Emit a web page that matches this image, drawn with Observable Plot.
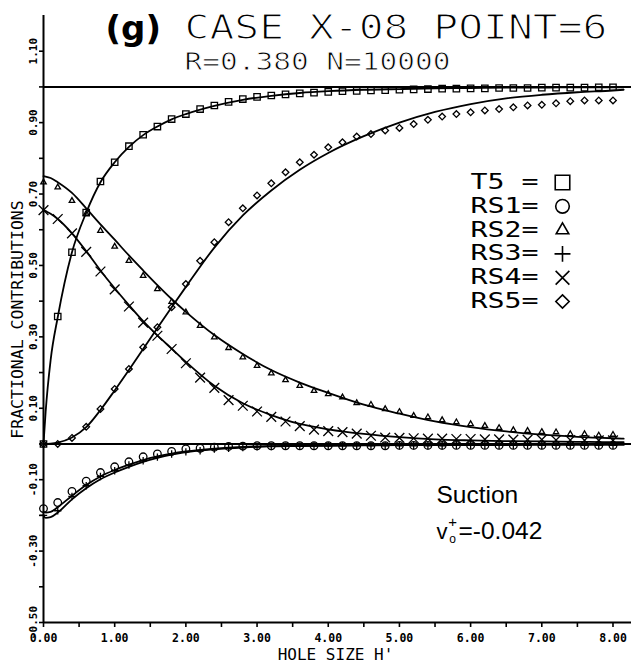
<!DOCTYPE html>
<html>
<head>
<meta charset="utf-8">
<script src="https://cdn.jsdelivr.net/npm/d3@7"></script>
<script src="https://cdn.jsdelivr.net/npm/@observablehq/plot@0.6"></script>
<style>
  html, body { margin: 0; padding: 0; background: #fff; }
  #chart { width: 631px; height: 666px; }
</style>
</head>
<body>
<div id="chart"></div>
<script>
// ---------------- data ----------------
// marker positions (hole size H+)
const markX = [0,0.2,0.4,0.6,0.8,1.0,1.2,1.4,1.6,1.8,2.0,2.2,2.4,2.6,2.8,3.0,3.2,3.4,3.6,3.8,4.0,4.2,4.4,4.6,4.8,5.0,5.2,5.4,5.6,5.8,6.0,6.2,6.4,6.6,6.8,7.0,7.2,7.4,7.6,7.8,8.0];

const t5Mark  = [0,0.357,0.537,0.648,0.735,0.789,0.834,0.866,0.889,0.910,0.924,0.938,0.948,0.958,0.966,0.972,0.976,0.979,0.982,0.984,0.986,0.988,0.989,0.990,0.991,0.992,0.993,0.994,0.995,0.995,0.996,0.996,0.997,0.997,0.997,0.998,0.998,0.998,0.998,0.999,0.999];
const rs1Mark = [-0.181,-0.164,-0.133,-0.104,-0.080,-0.064,-0.050,-0.036,-0.028,-0.021,-0.014,-0.012,-0.009,-0.007,-0.006,-0.005,-0.005,-0.005,-0.005,-0.005,-0.005,-0.005,-0.005,-0.005,-0.005,-0.004,-0.004,-0.004,-0.004,-0.004,-0.004,-0.004,-0.004,-0.004,-0.004,-0.004,-0.004,-0.004,-0.004,-0.004,-0.004];
const rs2Mark = [0.733,0.719,0.681,0.645,0.597,0.553,0.513,0.471,0.434,0.398,0.369,0.331,0.299,0.269,0.243,0.219,0.198,0.179,0.163,0.149,0.140,0.131,0.115,0.110,0.098,0.090,0.079,0.075,0.067,0.061,0.056,0.051,0.045,0.039,0.037,0.034,0.033,0.028,0.028,0.024,0.026];
const rs3Mark = [-0.200,-0.187,-0.147,-0.117,-0.091,-0.075,-0.059,-0.047,-0.037,-0.028,-0.022,-0.019,-0.014,-0.012,-0.010,-0.008,-0.007,-0.006,-0.006,-0.005,-0.005,-0.005,-0.005,-0.005,-0.005,-0.005,-0.005,-0.005,-0.005,-0.004,-0.004,-0.004,-0.004,-0.004,-0.004,-0.004,-0.004,-0.004,-0.004,-0.004,-0.004];
const rs4Mark = [0.655,0.630,0.590,0.538,0.483,0.433,0.385,0.340,0.303,0.266,0.226,0.186,0.157,0.123,0.107,0.091,0.076,0.063,0.050,0.040,0.036,0.033,0.029,0.023,0.018,0.017,0.016,0.015,0.015,0.014,0.014,0.013,0.013,0.012,0.012,0.012,0.011,0.011,0.010,0.010,0.010];
const rs5Mark = [0,0.000,0.017,0.048,0.098,0.154,0.210,0.271,0.327,0.383,0.448,0.513,0.565,0.621,0.660,0.696,0.730,0.761,0.789,0.810,0.831,0.845,0.861,0.868,0.878,0.885,0.896,0.908,0.917,0.924,0.929,0.934,0.938,0.943,0.948,0.950,0.954,0.960,0.962,0.962,0.962];

// fitted curves
const lineX   = [0,0.03,0.1,0.2,0.4,0.6,0.8,1.0,1.2,1.4,1.6,1.8,2.0,2.4,2.8,3.2,3.6,4.0,4.5,5.0,5.5,6.0,6.5,7.0,7.5,8.0,8.15];
const t5Line  = [0,0.09,0.235,0.355,0.537,0.648,0.733,0.789,0.832,0.865,0.889,0.909,0.924,0.947,0.964,0.975,0.983,0.988,0.992,0.994,0.996,0.997,0.998,0.998,0.999,0.999,0.999];
const rs1Line = [-0.19,-0.192,-0.19,-0.177,-0.145,-0.115,-0.091,-0.073,-0.058,-0.045,-0.035,-0.027,-0.021,-0.013,-0.008,-0.006,-0.005,-0.004,-0.003,-0.003,-0.002,-0.002,-0.002,-0.002,-0.002,-0.002,-0.002];
const rs2Line = [0.75,0.749,0.745,0.733,0.703,0.66,0.615,0.572,0.528,0.486,0.445,0.406,0.37,0.305,0.252,0.207,0.172,0.143,0.11,0.085,0.063,0.047,0.035,0.026,0.02,0.016,0.015];
const rs3Line = [-0.2,-0.207,-0.205,-0.192,-0.155,-0.124,-0.099,-0.08,-0.064,-0.05,-0.039,-0.03,-0.023,-0.015,-0.01,-0.007,-0.006,-0.005,-0.004,-0.003,-0.003,-0.003,-0.003,-0.002,-0.002,-0.002,-0.002];
const rs4Line = [0.655,0.652,0.645,0.63,0.59,0.54,0.486,0.436,0.389,0.344,0.304,0.267,0.23,0.163,0.114,0.081,0.056,0.041,0.028,0.019,0.013,0.01,0.008,0.007,0.006,0.005,0.005];
const rs5Line = [0,0,0.001,0.004,0.018,0.047,0.095,0.15,0.207,0.266,0.325,0.383,0.44,0.55,0.64,0.71,0.768,0.815,0.862,0.9,0.93,0.952,0.968,0.978,0.985,0.99,0.992];

// series names and symbols
const seriesNames   = ["T5", "RS1", "RS2", "RS3", "RS4", "RS5"];
const legendLabels  = ["T5 =", "RS1=", "RS2=", "RS3=", "RS4=", "RS5="];
const seriesSymbols = ["square", "circle", "triangle2", "plus", "times", "diamond2"];

// axes
const xTicks      = [0, 1, 2, 3, 4, 5, 6, 7, 8];
const xTickLabels = ["0.00", "1.00", "2.00", "3.00", "4.00", "5.00", "6.00", "7.00", "8.00"];
const xMinorTicks = [0, 0.5, 1, 1.5, 2, 2.5, 3, 3.5, 4, 4.5, 5, 5.5, 6, 6.5, 7, 7.5, 8];
const yTicks      = [-0.5, -0.3, -0.1, 0.1, 0.3, 0.5, 0.7, 0.9, 1.1];
const yTickLabels = ["-0.50", "-0.30", "-0.10", "0.10", "0.30", "0.50", "0.70", "0.90", "1.10"];
const yMinorTicks = [-0.5, -0.4, -0.3, -0.2, -0.1, 0, 0.1, 0.2, 0.3, 0.4, 0.5, 0.6, 0.7, 0.8, 0.9, 1.0, 1.1];
const refLevels   = [0, 1];

// texts
const titleTag  = "(g)";
const titleText = "CASE X-08 POINT=6";
const subText   = "R=0.380 N=10000";
const xLabel    = "HOLE SIZE H'";
const yLabel    = "FRACTIONAL CONTRIBUTIONS";
const noteLine1 = "Suction";
const noteV = "v", noteSup = "+", noteSub = "o", noteVal = "=-0.042";

// ---------------- build ----------------
const markValues = [t5Mark, rs1Mark, rs2Mark, rs3Mark, rs4Mark, rs5Mark];
const lineValues = [t5Line, rs1Line, rs2Line, rs3Line, rs4Line, rs5Line];

const lineData = [];
seriesNames.forEach((s, k) => lineX.forEach((x, i) => lineData.push({s, x, y: lineValues[k][i]})));

const markerR = {square: 3.6, circle: 3.8, triangle2: 2.6, plus: 2.5, times: 4.5, diamond2: 3.0};
const legendR = {square: 8.2, circle: 6.8, triangle2: 6.0, plus: 5.2, times: 6.3, diamond2: 6.0};

const W = 631, H = 666, ML = 43, MR = 0, MT = 15, MB = 44;
const mono = "DejaVu Sans Mono";
// thin "plotter" look: a white outline painted over the glyph edges
const thin = (w) => ({stroke: "white", strokeWidth: w, paintOrder: "normal"});

// annotation helper: place text at a pixel position of the figure
const note = (s, px, py, o = {}) => Plot.text([s], {
  frameAnchor: "top-left", dx: px - ML, dy: py - MT, text: d => d,
  textAnchor: "start", lineAnchor: "top", fill: "black", ...o
});

const marks = [];

// reference and axis lines
marks.push(Plot.ruleY(refLevels, {stroke: "black", strokeWidth: 2}));
marks.push(Plot.ruleY([-0.5], {stroke: "black", strokeWidth: 2}));
marks.push(Plot.ruleX([0], {stroke: "black", strokeWidth: 2}));

// ticks
marks.push(Plot.axisX(xMinorTicks, {anchor: "bottom", tickSize: 5, strokeWidth: 1.6, tickFormat: () => "", label: null}));
marks.push(Plot.axisY(yMinorTicks, {anchor: "left", tickSize: 4, strokeWidth: 1.6, tickFormat: () => "", label: null}));

// tick labels
marks.push(Plot.text(xTicks, {x: d => d, frameAnchor: "bottom", dy: 15.5, text: (d, i) => xTickLabels[i],
  fontFamily: mono, fontWeight: "bold", fontSize: 11.5, lineAnchor: "middle", fill: "black"}));
marks.push(Plot.text(yTicks, {y: d => d, frameAnchor: "left", dx: -10, rotate: -90, text: (d, i) => yTickLabels[i],
  fontFamily: mono, fontWeight: "bold", fontSize: 11, lineAnchor: "middle", textAnchor: "middle", fill: "black"}));

// axis labels
marks.push(Plot.text([xLabel], {frameAnchor: "bottom", dx: 335 - (ML + (W - ML - MR) / 2), dy: 32, text: d => d,
  fontFamily: mono, fontSize: 16, lineAnchor: "middle", fill: "black"}));
marks.push(Plot.text([yLabel], {frameAnchor: "top-left", dx: 17 - ML, dy: 319 - MT, rotate: -90, text: d => d,
  fontFamily: mono, fontSize: 16.5, lineAnchor: "middle", textAnchor: "middle", fill: "black"}));

// fitted lines
marks.push(Plot.line(lineData, {x: "x", y: "y", z: "s", curve: "monotone-x", stroke: "black", strokeWidth: 1.8}));

// markers
seriesNames.forEach((s, k) => {
  const sym = seriesSymbols[k];
  marks.push(Plot.dot(markX.map((x, i) => ({x, y: markValues[k][i]})), {
    x: "x", y: "y", symbol: () => sym, r: markerR[sym],
    stroke: "black", fill: "none", strokeWidth: 1.3
  }));
});

// titles (plotter lettering: stretched horizontally after rendering)
const titleFont = 33, subFont = 24;
marks.push(note(titleTag, 105, 15, {fontFamily: "DejaVu Sans", fontWeight: "bold", fontSize: 34}));
marks.push(note(titleText, 184, 38.8 - 0.71 * titleFont, {fontFamily: mono, fontSize: titleFont, ...thin(1.2)}));
marks.push(note(subText, 184, 69.2 - 0.71 * subFont, {fontFamily: mono, fontSize: subFont, ...thin(0.8)}));
const stretch = [[titleText, 423], [subText, 266]];

// legend rows
const legTextX = 470, legSymX = 562, legTop = 182, legStep = 23.8, legFont = 20.4, legWidth = 68;
seriesNames.forEach((s, k) => {
  const py = legTop + k * legStep;
  marks.push(note(legendLabels[k], legTextX, py, {fontFamily: mono, fontSize: legFont, lineAnchor: "middle"}));
  const sym = seriesSymbols[k];
  marks.push(Plot.dot([s], {frameAnchor: "top-left", dx: legSymX - ML, dy: py - MT, symbol: () => sym,
    r: legendR[sym], stroke: "black", fill: "none", strokeWidth: 1.6}));
});
legendLabels.forEach(l => stretch.push([l, legWidth]));

// annotation
const sans = "Liberation Sans";
marks.push(note(noteLine1, 436, 485, {fontFamily: sans, fontSize: 24.5}));
marks.push(note(noteV, 436, 522.5, {fontFamily: sans, fontSize: 22}));
marks.push(note(noteSup, 452, 522, {fontFamily: sans, fontSize: 15, textAnchor: "middle", lineAnchor: "middle"}));
marks.push(note(noteSub, 452, 539, {fontFamily: sans, fontSize: 12, textAnchor: "middle", lineAnchor: "middle"}));
marks.push(note(noteVal, 458, 521.5, {fontFamily: sans, fontSize: 24.5}));

const chart = Plot.plot({
  width: W, height: H,
  marginLeft: ML, marginRight: MR, marginTop: MT, marginBottom: MB,
  x: {domain: [0, 8.26]},
  y: {domain: [-0.5, 1.2]},
  style: {background: "white", color: "black", overflow: "visible"},
  marks
});
document.getElementById("chart").appendChild(chart);
// stretch the tall plotter lettering to its width in the figure
const stretchMap = new Map(stretch);
d3.select(chart).selectAll("text")
  .filter(function () { return stretchMap.has(this.textContent); })
  .each(function () {
    d3.select(this).attr("textLength", stretchMap.get(this.textContent)).attr("lengthAdjust", "spacingAndGlyphs");
  });
</script>
</body>
</html>
